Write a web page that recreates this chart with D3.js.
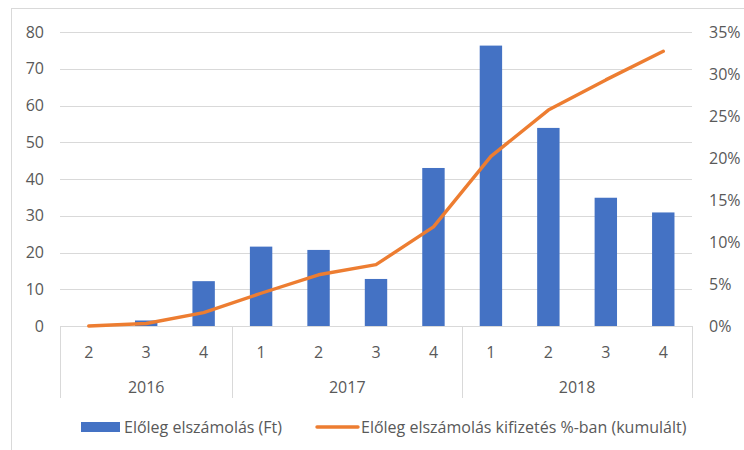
<!DOCTYPE html>
<html>
<head>
<meta charset="utf-8">
<script src="https://cdn.jsdelivr.net/npm/d3@7"></script>
<style>
  body { margin: 0; background: #fff; }
  svg text { font-family: "Open Sans", "Liberation Sans", sans-serif; fill: #595959; }
</style>
</head>
<body>
<svg id="viz" width="744" height="450"></svg>
<script>
// chart data
var quarters = ["2", "3", "4", "1", "2", "3", "4", "1", "2", "3", "4"];
var quarterYears = ["2016", "2016", "2016", "2017", "2017", "2017", "2017", "2018", "2018", "2018", "2018"];
var years = ["2016", "2017", "2018"];
var advance = [0, 1.5, 12.2, 21.6, 20.7, 12.8, 43.0, 76.3, 53.9, 34.9, 30.9];
var cumulativePct = [0, 0.3, 1.6, 3.9, 6.1, 7.3, 11.8, 20.2, 25.7, 29.3, 32.7];
var leftTicks = [0, 10, 20, 30, 40, 50, 60, 70, 80];
var rightTicks = [0, 5, 10, 15, 20, 25, 30, 35];
var seriesNames = ["Előleg elszámolás (Ft)", "Előleg elszámolás kifizetés %-ban (kumulált)"];

var blue = "#4472C4", orange = "#ED7D31", grid = "#d9d9d9";
var fontSize = "16px";
var plot = { left: 60, right: 692, top: 32, bottom: 326 };

var svg = d3.select("#viz");

// outer chart frame
svg.append("rect")
    .attr("x", 11.5).attr("y", 8.5)
    .attr("width", 760).attr("height", 460)
    .attr("fill", "none").attr("stroke", grid);

var keys = quarters.map(function (q, i) { return quarterYears[i] + "-" + q; });

var x = d3.scaleBand().domain(keys).range([plot.left, plot.right]).padding(0);
var y = d3.scaleLinear().domain([0, 80]).range([plot.bottom, plot.top]);
var y2 = d3.scaleLinear().domain([0, 35]).range([plot.bottom, plot.top]);

// gridlines
svg.append("g").selectAll("line")
    .data(leftTicks)
    .enter().append("line")
    .attr("x1", plot.left).attr("x2", plot.right)
    .attr("y1", function (d) { return Math.round(y(d)) + 0.5; })
    .attr("y2", function (d) { return Math.round(y(d)) + 0.5; })
    .attr("stroke", grid).attr("stroke-width", 1);

// left axis
var axL = svg.append("g")
    .attr("transform", "translate(" + plot.left + ",0)")
    .call(d3.axisLeft(y).tickValues(leftTicks).tickSize(0).tickPadding(16));
axL.select(".domain").remove();
axL.selectAll("text").style("font-size", fontSize).style("fill", "#595959");

// right axis
var axR = svg.append("g")
    .attr("transform", "translate(" + plot.right + ",0)")
    .call(d3.axisRight(y2).tickValues(rightTicks).tickSize(0).tickPadding(17)
        .tickFormat(function (d) { return d + "%"; }));
axR.select(".domain").remove();
axR.selectAll("text").style("font-size", fontSize).style("fill", "#595959");

// bars
var barW = x.bandwidth() * 0.39;
svg.append("g").selectAll(".bar")
    .data(advance)
    .enter().append("rect")
    .attr("class", "bar")
    .attr("x", function (d, i) { return x(keys[i]) + (x.bandwidth() - barW) / 2; })
    .attr("y", function (d) { return y(d); })
    .attr("width", barW)
    .attr("height", function (d) { return y(0) - y(d); })
    .attr("fill", blue);

// category axis: baseline, group separators, labels
var catG = svg.append("g");
catG.append("line")
    .attr("x1", plot.left).attr("x2", plot.right)
    .attr("y1", plot.bottom + 0.5).attr("y2", plot.bottom + 0.5)
    .attr("stroke", grid);

var groupEdges = years.map(function (yr) {
    var idx = quarterYears.indexOf(yr);
    var n = quarterYears.filter(function (v) { return v === yr; }).length;
    return { year: yr, x0: x(keys[idx]), x1: x(keys[idx]) + n * x.step() };
});
var seps = [plot.left].concat(groupEdges.map(function (g) { return g.x1; }));
catG.selectAll(".sep")
    .data(seps)
    .enter().append("line")
    .attr("class", "sep")
    .attr("x1", function (d) { return Math.round(d) + 0.5; })
    .attr("x2", function (d) { return Math.round(d) + 0.5; })
    .attr("y1", plot.bottom).attr("y2", 398)
    .attr("stroke", grid);

catG.selectAll(".qlab")
    .data(quarters)
    .enter().append("text")
    .attr("class", "qlab")
    .attr("x", function (d, i) { return x(keys[i]) + x.bandwidth() / 2; })
    .attr("y", 352)
    .attr("dy", "0.35em")
    .attr("text-anchor", "middle")
    .style("font-size", fontSize)
    .text(function (d) { return d; });

catG.selectAll(".ylab")
    .data(groupEdges)
    .enter().append("text")
    .attr("class", "ylab")
    .attr("x", function (d) { return (d.x0 + d.x1) / 2; })
    .attr("y", 387)
    .attr("dy", "0.35em")
    .attr("text-anchor", "middle")
    .style("font-size", fontSize)
    .text(function (d) { return d.year; });

// cumulative line
var line = d3.line()
    .x(function (d, i) { return x(keys[i]) + x.bandwidth() / 2; })
    .y(function (d) { return y2(d); });
svg.append("path")
    .datum(cumulativePct)
    .attr("d", line)
    .attr("fill", "none")
    .attr("stroke", orange)
    .attr("stroke-width", 3.4)
    .attr("stroke-linecap", "round")
    .attr("stroke-linejoin", "round");

// legend
var leg = svg.append("g");
leg.append("rect")
    .attr("x", 81).attr("y", 422).attr("width", 39).attr("height", 10)
    .attr("fill", blue);
leg.append("text")
    .attr("x", 124).attr("y", 427).attr("dy", "0.35em")
    .style("font-size", fontSize)
    .text(seriesNames[0]);
leg.append("line")
    .attr("x1", 317).attr("x2", 358).attr("y1", 427).attr("y2", 427)
    .attr("stroke", orange).attr("stroke-width", 3.4).attr("stroke-linecap", "round");
leg.append("text")
    .attr("x", 361).attr("y", 427).attr("dy", "0.35em")
    .style("font-size", fontSize)
    .text(seriesNames[1]);
</script>
</body>
</html>
